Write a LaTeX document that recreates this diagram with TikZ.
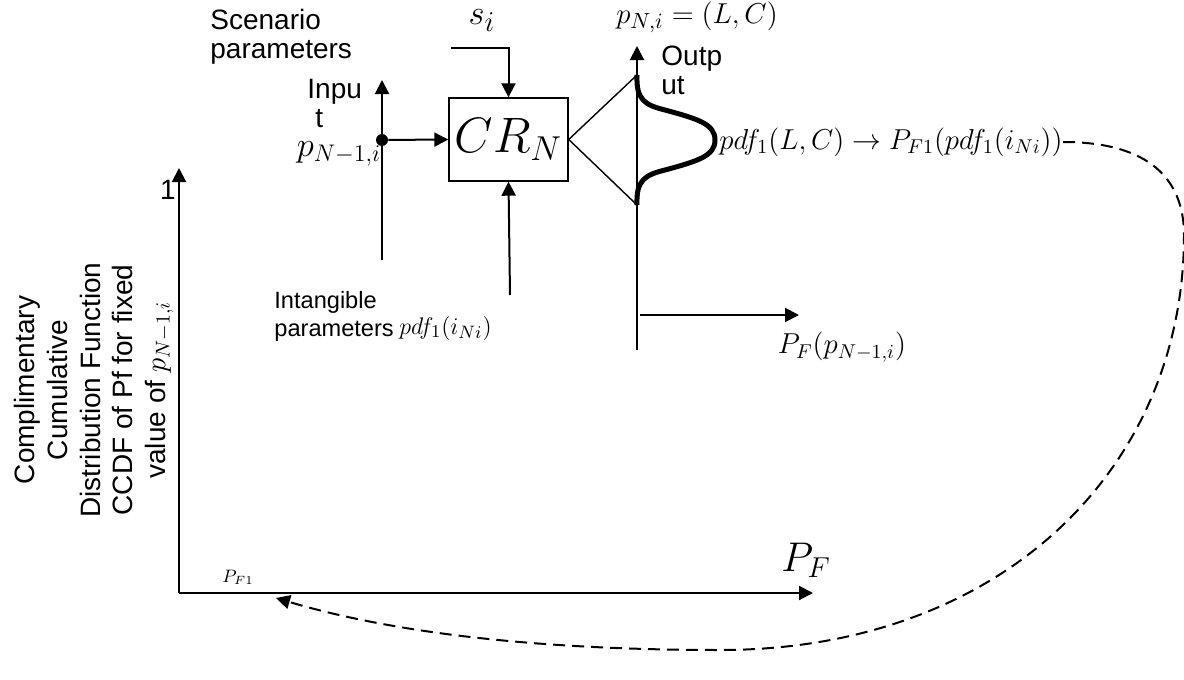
\documentclass[tikz,border=0pt]{standalone}
\usepackage{fontspec}
\setmainfont{Liberation Sans}
\usetikzlibrary{arrows.meta}
\begin{document}
\begin{tikzpicture}[x=0.5pt,y=-0.5pt,
  arr/.style={line width=1pt,-{Triangle[length=7pt,width=7pt]}},
  thin line/.style={line width=0.7pt},
  lbl/.style={inner sep=0pt,font=\fontsize{14}{14.5}\selectfont,align=left},
  mlbl/.style={inner sep=0pt,font=\fontsize{15}{16}\selectfont},
  dashline/.style={line width=1pt,dash pattern=on 6pt off 3.5pt,-{Triangle[length=7pt,width=7pt]}}]
\useasboundingbox (0,0) rectangle (1184,680);
% block
\node[draw,thin line,minimum width=59.5pt,minimum height=41.5pt,inner sep=0pt,
  font=\fontsize{23}{24}\selectfont] (cr) at (508.5,139.5) {$CR_N$};
% scenario input
\coordinate (sstart) at (451,48);
\draw[arr] (sstart) -| (cr.north);
\node[inner sep=0pt,font=\fontsize{19}{20}\selectfont] (si) at (482,21) {$s_i$};
\node[lbl,anchor=north west] (scen) at (210,9) {Scenario\\parameters};
% input line
\coordinate (inbot) at (382,260);
\coordinate (intop) at (382,80);
\draw[arr] (inbot) -- (intop);
\node[circle,fill,inner sep=0pt,minimum size=6pt] (dot) at (382,140) {};
\draw[arr] (dot) -- (cr.west);
\node[lbl,anchor=north west] (inp) at (307,79) {Inpu\\\hspace*{4pt}t};
\node[inner sep=0pt,font=\fontsize{16.5}{18}\selectfont] (pin) at (339,154) {$p_{N-1,i}$};
% intangible input
\coordinate (ibot) at (510,295);
\draw[arr] (ibot) -- (cr.south);
\node[lbl,font=\fontsize{11.8}{14}\selectfont,anchor=north west] (intang) at (274,291) {Intangible\\parameters};
\node[inner sep=0pt,font=\fontsize{13}{15}\selectfont,anchor=west] (pdfi) at (399,328) {$pdf_1(i_{Ni})$};
% output
\coordinate (tritop) at (637,75);
\coordinate (tribot) at (637,205);
\draw[thin line] (tritop) -- (cr.east) -- (tribot);
\coordinate (outbot) at (637,350);
\coordinate (outtop) at (637,46);
\draw[arr] (outbot) -- (outtop);
\draw[line width=2.5pt] (tritop) .. controls (636,100) and (645,105) .. (665,110)
  .. controls (698,119) and (715,124) .. (715,140)
  .. controls (715,156) and (698,161) .. (665,170)
  .. controls (645,175) and (636,180) .. (tribot);
\node[inner sep=0pt,font=\fontsize{15.3}{16}\selectfont] (pout) at (697,17) {$p_{N,i}=(L,C)$};
\node[lbl,anchor=north west] (outp) at (661,46) {Outp\\ut};
\node[inner sep=0pt,font=\fontsize{14.2}{16}\selectfont,anchor=west] (pdfL) at (719,142) {$pdf_1(L,C)\rightarrow P_{F1}(pdf_1(i_{Ni}))$};
\coordinate (pfs) at (640,315);
\coordinate (pfe) at (799,315);
\draw[arr] (pfs) -- (pfe);
\node[mlbl,font=\fontsize{14.5}{16}\selectfont] (pfp) at (842,347) {$P_F(p_{N-1,i})$};
% axes
\coordinate (o) at (179,593);
\coordinate (ytop) at (179,168);
\coordinate (xend) at (813,593);
\draw[arr] (o) -- (ytop);
\draw[arr] (o) -- (xend);
\node[lbl] (one) at (168,190) {1};
\node[inner sep=0pt,font=\fontsize{20}{22}\selectfont] (pfbig) at (806,560) {$P_F$};
\node[inner sep=0pt,font=\fontsize{9}{10}\selectfont] (pf1) at (238,577) {$P_{F1}$};
\node[inner sep=0pt,font=\fontsize{14}{16.3}\selectfont,align=center,rotate=90,anchor=south] (ylab) at (174,390)
  {Complimentary\\Cumulative\\Distribution Function\\CCDF of Pf for fixed\\value of $p_{N-1,i}$};
% feedback
\coordinate (pf1tip) at (276,598);
\draw[dashline] (pdfL.east) .. controls (1150,142) and (1184,180) .. (1184,235)
  .. controls (1184,470) and (1000,650) .. (720,650)
  .. controls (550,650) and (400,635) .. (pf1tip);
\end{tikzpicture}
\end{document}
